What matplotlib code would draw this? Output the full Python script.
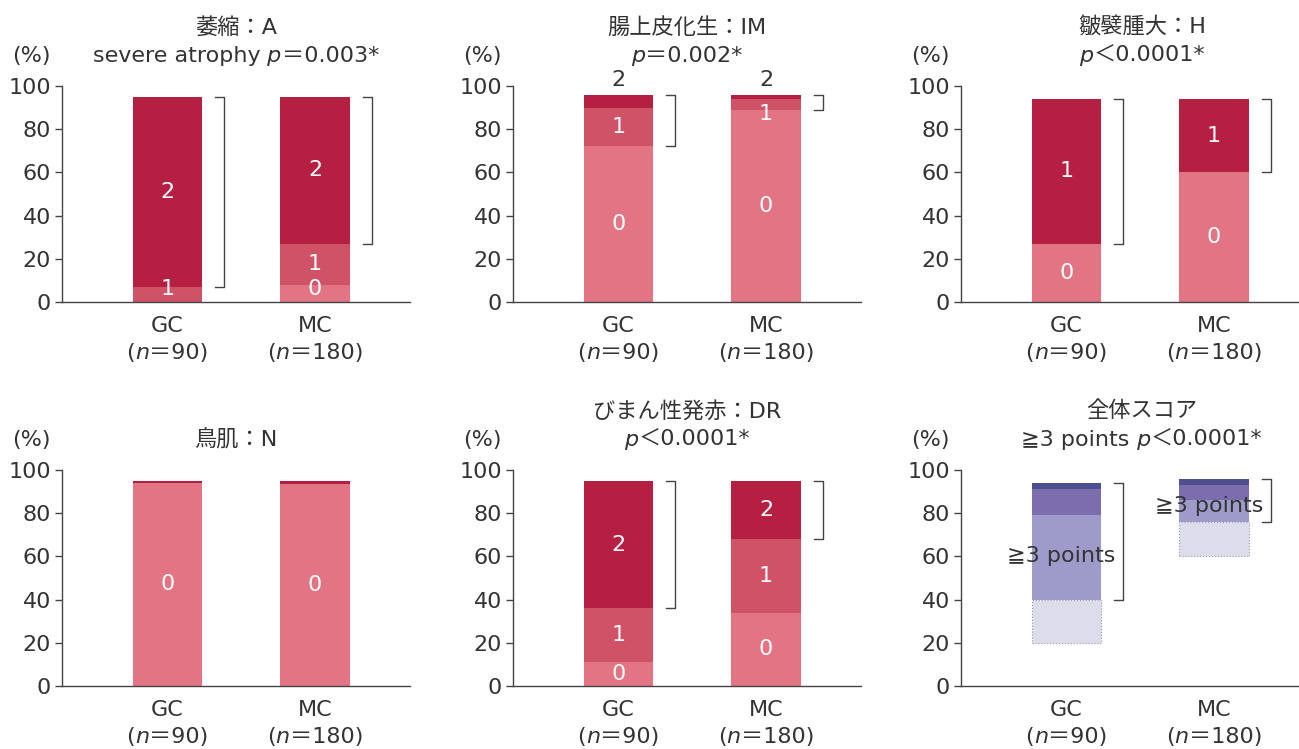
import matplotlib
matplotlib.use('Agg')
import matplotlib.pyplot as plt
import matplotlib.transforms as mtransforms
from matplotlib.offsetbox import TextArea, HPacker, AnnotationBbox

plt.rcParams['font.family'] = ['DejaVu Sans', 'Noto Sans CJK JP']

groups = ['GC', 'MC']
group_n = [90, 180]

# % of cases per score level, stacked bottom -> top
atrophy_gc = [0, 7, 88]
atrophy_mc = [8, 19, 68]
im_gc = [72, 18, 6]
im_mc = [89, 5, 2]
h_gc = [27, 67]
h_mc = [60, 34]
n_gc = [94, 1]
n_mc = [93.5, 1.5]
dr_gc = [11, 25, 59]
dr_mc = [34, 34, 27]
total_gc = [20, 20, 39, 12, 3]
total_mc = [60, 16, 10, 7, 3]

reds3 = ['#E27483', '#CF5266', '#B51F42']
reds2 = ['#E27483', '#B51F42']
purples = ['#FFFFFF', '#DDDCEB', '#9E9BCB', '#7B6DAE', '#4F4E8E']
TXT = '#333333'
FS = 16

# titles: text between underscores is italic
panels = [
    dict(title=['萎縮：A', 'severe atrophy_ p_＝0.003*'], data=[atrophy_gc, atrophy_mc],
         colors=reds3, labels=['0', '1', '2'], mode=['in', 'in', 'in'], bracket_from=2),
    dict(title=['腸上皮化生：IM', '_p_＝0.002*'], data=[im_gc, im_mc],
         colors=reds3, labels=['0', '1', '2'], mode=['in', 'in', 'above'], bracket_from=1),
    dict(title=['皺襞腫大：H', '_p_＜0.0001*'], data=[h_gc, h_mc],
         colors=reds2, labels=['0', '1'], mode=['in', 'in'], bracket_from=1),
    dict(title=['鳥肌：N'], data=[n_gc, n_mc],
         colors=reds2, labels=['0', '1'], mode=['in', None], bracket_from=None),
    dict(title=['びまん性発赤：DR', '_p_＜0.0001*'], data=[dr_gc, dr_mc],
         colors=reds3, labels=['0', '1', '2'], mode=['in', 'in', 'in'], bracket_from=2),
    dict(title=['全体スコア', '≧3 points_ p_＜0.0001*'], data=[total_gc, total_mc],
         colors=purples, labels=None, mode=[None] * 5, bracket_from=2),
]


def rich(ax, xy, s, xycoords):
    parts = s.split('_')
    boxes = [TextArea(p, textprops=dict(fontsize=FS, color=TXT,
                                         style='italic' if k % 2 else 'normal'))
             for k, p in enumerate(parts) if p]
    pack = HPacker(children=boxes, align='baseline', pad=0, sep=0)
    ab = AnnotationBbox(pack, xy, xycoords=xycoords, frameon=False,
                        box_alignment=(0.5, 0.5), pad=0, annotation_clip=False)
    ax.add_artist(ab)


W, H = 1299, 749
fig = plt.figure(figsize=(W / 100, H / 100), dpi=100)

col_left = [62, 513, 961]
col_title_x = [0.5, 0.5, 0.52]
row_bottom = [302, 686]
ax_w, ax_h = 348, 216

for k, p in enumerate(panels):
    r, c = divmod(k, 3)
    ax = fig.add_axes([col_left[c] / W, 1 - row_bottom[r] / H, ax_w / W, ax_h / H])
    ax.set_xlim(-0.715, 1.644)
    ax.set_ylim(0, 100)
    for s in ['top', 'right']:
        ax.spines[s].set_visible(False)
    for s in ['left', 'bottom']:
        ax.spines[s].set_color('#444444')
        ax.spines[s].set_linewidth(1.0)
    ax.set_yticks([0, 20, 40, 60, 80, 100])
    ax.tick_params(axis='y', length=5, width=1, color='#444444', labelsize=FS,
                   labelcolor=TXT, pad=3)
    ax.set_xticks([])

    # group labels under the axis
    trans = mtransforms.blended_transform_factory(ax.transData, ax.transAxes)
    for i, (g, n) in enumerate(zip(groups, group_n)):
        ax.text(i, -24 / ax_h, g, transform=trans, ha='center', va='center',
                fontsize=FS, color=TXT)
        rich(ax, (i, -51 / ax_h), f'(_n_＝{n})', ('data', 'axes fraction'))

    for i, vals in enumerate(p['data']):
        bottom = 0
        for j, v in enumerate(vals):
            light = p['labels'] is None and j == 1
            ax.bar(i, v, bottom=bottom, width=0.468, color=p['colors'][j],
                   edgecolor='#9A9AA6' if light else 'none',
                   linestyle=':' if light else '-', linewidth=0.8 if light else 0)
            m = p['mode'][j]
            if m == 'in' and v > 0:
                if v >= 10:
                    y = bottom + v / 2
                elif bottom == 0:
                    y = bottom + 6
                else:
                    y = bottom + v - 7
                ax.text(i, y, p['labels'][j], ha='center', va='center',
                        color='white', fontsize=FS)
            elif m == 'above':
                ax.text(i, sum(vals) + 7, p['labels'][j], ha='center', va='center',
                        color=TXT, fontsize=FS)
            bottom += v

        if p['bracket_from'] is not None:
            lo = sum(vals[:p['bracket_from']])
            hi = sum(vals)
            bx = i + 0.385
            ax.plot([bx - 0.06, bx, bx, bx - 0.06], [lo, lo, hi, hi],
                    color='#444444', lw=1, clip_on=False)
            if p['labels'] is None:
                ax.text(i - 0.035, lo + (hi - lo) * 0.37, '≧3 points', ha='center',
                        va='center', color=TXT, fontsize=FS)

    # titles: last line sits level with the (%) label
    lines = p['title']
    y_last = 1 + 30 / ax_h
    for t, line in enumerate(reversed(lines)):
        rich(ax, (col_title_x[c], y_last + t * 29 / ax_h), line, 'axes fraction')
    ax.text(-0.089, y_last, '(%)', transform=ax.transAxes, ha='center',
            va='center', fontsize=FS, color=TXT)

fig.savefig('out.png', dpi=100)
